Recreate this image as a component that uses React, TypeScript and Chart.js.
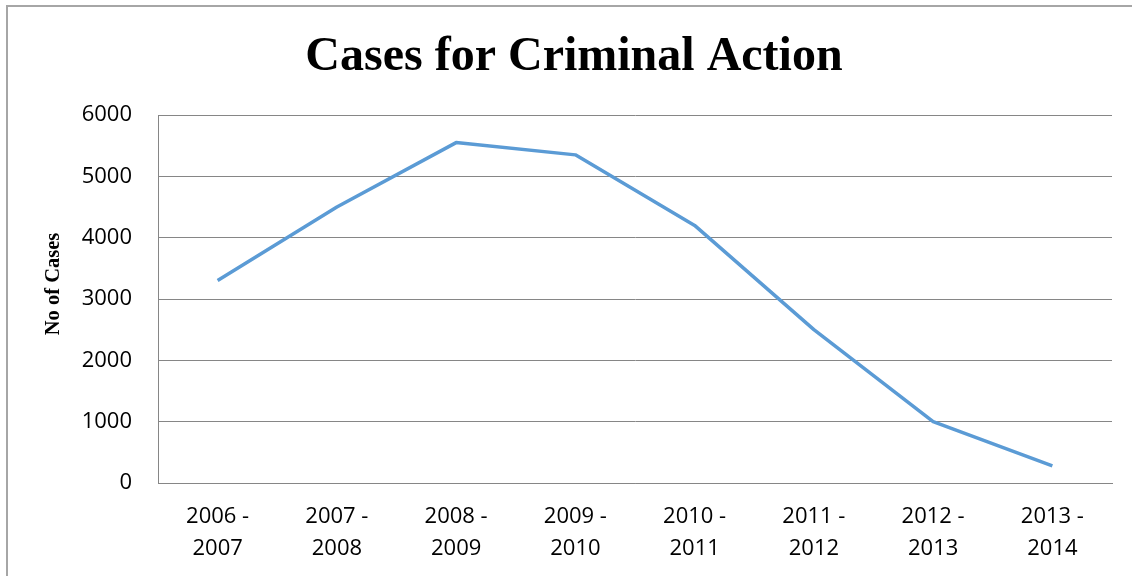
import React, { useEffect, useRef } from "react";
import { Chart, registerables } from "chart.js";

Chart.register(...registerables);

const categories: string[][] = [
  ["2006 -", "2007"],
  ["2007 -", "2008"],
  ["2008 -", "2009"],
  ["2009 -", "2010"],
  ["2010 -", "2011"],
  ["2011 -", "2012"],
  ["2012 -", "2013"],
  ["2013 -", "2014"],
];
const cases: number[] = [3300, 4500, 5550, 5350, 4200, 2500, 1000, 280];
const yMin = 0;
const yMax = 6000;
const yStep = 1000;
const chartTitle = "Cases for Criminal Action";
const yTitle = "No of Cases";

const framePlugin = {
  id: "frame",
  beforeDraw(chart: any) {
    const ctx = chart.ctx;
    ctx.save();
    ctx.strokeStyle = "#A6A6A6";
    ctx.lineWidth = 2;
    ctx.beginPath();
    ctx.moveTo(7, 700);
    ctx.lineTo(7, 6);
    ctx.lineTo(1200, 6);
    ctx.stroke();
    ctx.restore();
  },
  afterDraw(chart: any) {
    const ctx = chart.ctx;
    const area = chart.chartArea;
    ctx.save();
    ctx.translate(54, (area.top + area.bottom) / 2 - 15);
    ctx.rotate(-Math.PI / 2);
    ctx.font = 'bold 20.5px "Liberation Serif"';
    ctx.fillStyle = "#000000";
    ctx.textAlign = "center";
    ctx.textBaseline = "middle";
    ctx.fillText(yTitle, 0, 0);
    ctx.restore();
  },
};

export default function App() {
  const ref = useRef<HTMLCanvasElement | null>(null);

  useEffect(() => {
    if (!ref.current) return;
    const chart = new Chart(ref.current, {
      type: "line",
      data: {
        labels: categories,
        datasets: [
          {
            data: cases,
            borderColor: "#5B9BD5",
            backgroundColor: "#5B9BD5",
            borderWidth: 3.5,
            pointRadius: 0,
            tension: 0,
            fill: false,
            borderJoinStyle: "round",
          },
        ],
      },
      options: {
        responsive: false,
        animation: false,
        layout: { padding: { left: 36, right: 20, top: 0, bottom: 0 } },
        plugins: {
          legend: { display: false },
          tooltip: { enabled: false },
          title: {
            display: true,
            text: chartTitle,
            color: "#000000",
            font: { family: '"Liberation Serif"', size: 48, weight: "bold", lineHeight: 1.2 },
            padding: { top: 29, bottom: 28.4 },
          },
        },
        scales: {
          x: {
            offset: true,
            grid: { display: false, drawTicks: false },
            border: { display: true, color: "#868686", width: 1 },
            ticks: {
              color: "#000000",
              font: { family: '"Open Sans"', size: 22, lineHeight: 32 / 22 },
              padding: 17.5,
              maxRotation: 0,
              autoSkip: false,
            },
            afterFit(scale: any) {
              scale.height = 93;
            },
          },
          y: {
            min: yMin,
            max: yMax,
            grid: { color: "#868686", lineWidth: 1, drawTicks: false },
            border: { display: true, color: "#868686", width: 1 },
            ticks: {
              stepSize: yStep,
              color: "#000000",
              font: { family: '"Open Sans"', size: 22 },
              padding: 26,
              callback: (v: any) => String(v),
            },
            afterFit(scale: any) {
              scale.width = 122;
            },
          },
        },
      },
      plugins: [framePlugin],
    });
    return () => chart.destroy();
  }, []);

  return (
    <div style={{ position: "absolute", left: 0, top: 0, width: 1132, height: 576, background: "#ffffff" }}>
      <canvas ref={ref} width={1132} height={576} />
    </div>
  );
}
